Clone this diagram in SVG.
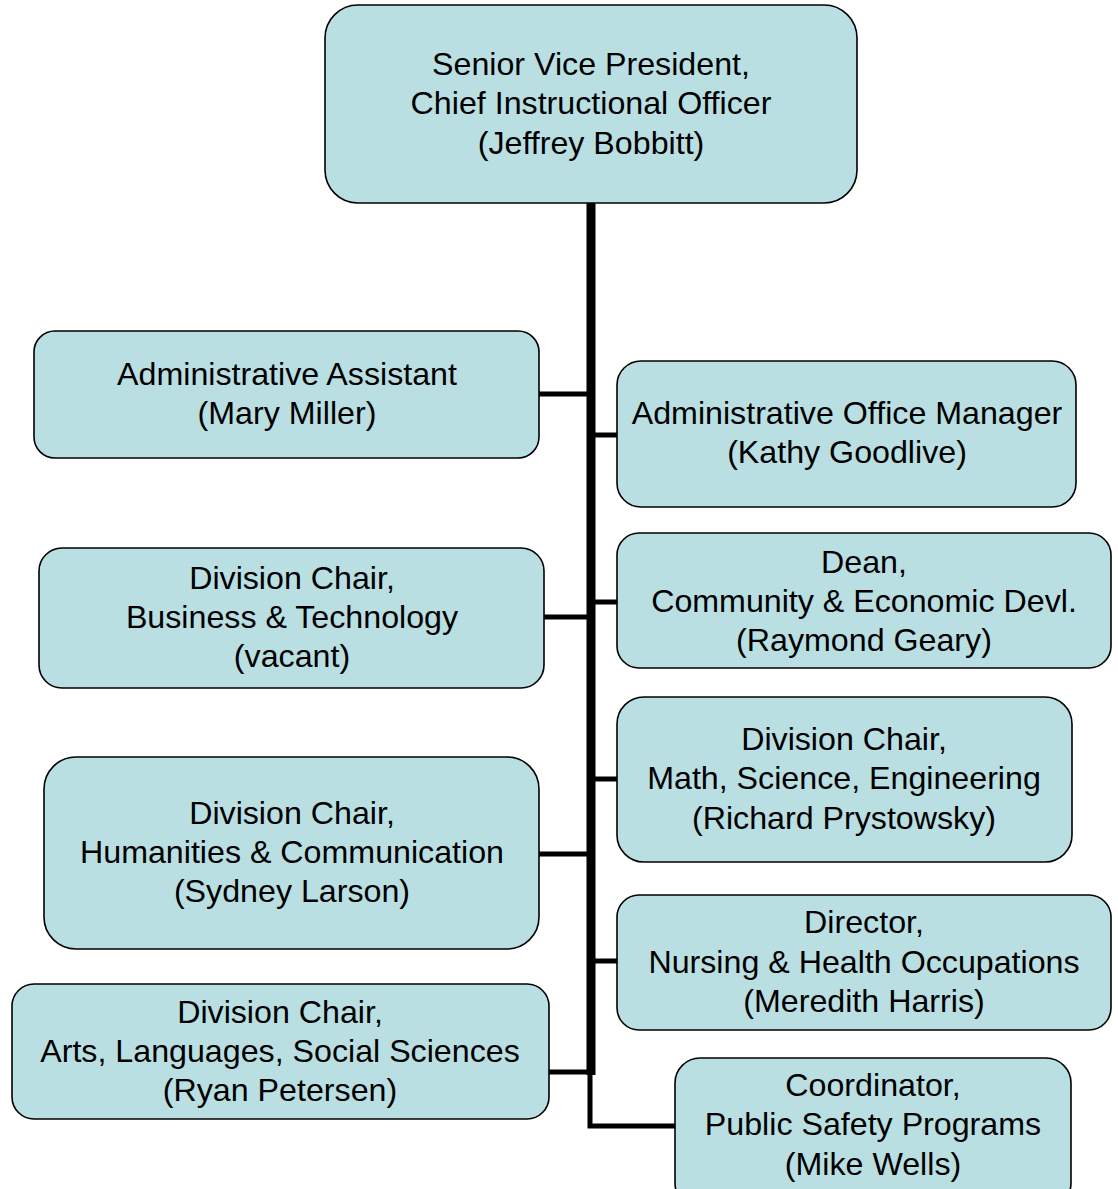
<svg xmlns="http://www.w3.org/2000/svg" width="1118" height="1189" viewBox="0 0 1118 1189">
  <style>
    .box { fill: #B9DFE3; stroke: #000000; stroke-width: 1.6; }
    .lbl { font-family: "Liberation Sans", Arial, sans-serif; font-size: 32.2px; fill: #000000; text-anchor: middle; }
    .trunk { stroke: #000000; stroke-width: 9; fill: none; }
    .branch { stroke: #000000; stroke-width: 5; fill: none; }
  </style>
  <rect width="1118" height="1189" fill="#FFFFFF"/>

  <!-- connectors -->
  <g id="connectors">
    <line class="trunk" x1="591" y1="203" x2="591" y2="1075"/>
    <line class="branch" x1="539" y1="394" x2="591" y2="394"/>
    <line class="branch" x1="591" y1="435" x2="617" y2="435"/>
    <line class="branch" x1="591" y1="602" x2="617" y2="602"/>
    <line class="branch" x1="544" y1="617" x2="591" y2="617"/>
    <line class="branch" x1="591" y1="779" x2="617" y2="779"/>
    <line class="branch" x1="539" y1="854" x2="591" y2="854"/>
    <line class="branch" x1="591" y1="961" x2="617" y2="961"/>
    <line class="branch" x1="549" y1="1072" x2="591" y2="1072"/>
    <polyline class="branch" points="590,1070 590,1126 675,1126"/>
  </g>

  <g id="node-svp">
    <rect class="box" x="325" y="5" width="532" height="198" rx="33" ry="33"/>
    <text class="lbl" x="591" y="75">Senior Vice President,</text>
    <text class="lbl" x="591" y="114">Chief Instructional Officer</text>
    <text class="lbl" x="591" y="154">(Jeffrey Bobbitt)</text>
  </g>

  <g id="node-admin-assistant">
    <rect class="box" x="34" y="331" width="505" height="127" rx="21" ry="21"/>
    <text class="lbl" x="287" y="385">Administrative Assistant</text>
    <text class="lbl" x="287" y="424">(Mary Miller)</text>
  </g>

  <g id="node-office-manager">
    <rect class="box" x="617" y="361" width="459" height="146" rx="24" ry="24"/>
    <text class="lbl" x="847" y="424">Administrative Office Manager</text>
    <text class="lbl" x="847" y="463">(Kathy Goodlive)</text>
  </g>

  <g id="node-business">
    <rect class="box" x="39" y="548" width="505" height="140" rx="23" ry="23"/>
    <text class="lbl" x="292" y="589">Division Chair,</text>
    <text class="lbl" x="292" y="628">Business &amp; Technology</text>
    <text class="lbl" x="292" y="667">(vacant)</text>
  </g>

  <g id="node-dean">
    <rect class="box" x="617" y="533" width="494" height="135" rx="22" ry="22"/>
    <text class="lbl" x="864" y="573">Dean,</text>
    <text class="lbl" x="864" y="612">Community &amp; Economic Devl.</text>
    <text class="lbl" x="864" y="651">(Raymond Geary)</text>
  </g>

  <g id="node-math">
    <rect class="box" x="617" y="697" width="455" height="165" rx="27" ry="27"/>
    <text class="lbl" x="844" y="750">Division Chair,</text>
    <text class="lbl" x="844" y="789">Math, Science, Engineering</text>
    <text class="lbl" x="844" y="829">(Richard Prystowsky)</text>
  </g>

  <g id="node-humanities">
    <rect class="box" x="44" y="757" width="495" height="192" rx="32" ry="32"/>
    <text class="lbl" x="292" y="824">Division Chair,</text>
    <text class="lbl" x="292" y="863">Humanities &amp; Communication</text>
    <text class="lbl" x="292" y="902">(Sydney Larson)</text>
  </g>

  <g id="node-nursing">
    <rect class="box" x="617" y="895" width="494" height="135" rx="22" ry="22"/>
    <text class="lbl" x="864" y="933">Director,</text>
    <text class="lbl" x="864" y="973">Nursing &amp; Health Occupations</text>
    <text class="lbl" x="864" y="1012">(Meredith Harris)</text>
  </g>

  <g id="node-arts">
    <rect class="box" x="12" y="984" width="537" height="135" rx="22" ry="22"/>
    <text class="lbl" x="280" y="1023">Division Chair,</text>
    <text class="lbl" x="280" y="1062">Arts, Languages, Social Sciences</text>
    <text class="lbl" x="280" y="1101">(Ryan Petersen)</text>
  </g>

  <g id="node-public-safety">
    <rect class="box" x="675" y="1058" width="396" height="150" rx="25" ry="25"/>
    <text class="lbl" x="873" y="1096">Coordinator,</text>
    <text class="lbl" x="873" y="1135">Public Safety Programs</text>
    <text class="lbl" x="873" y="1175">(Mike Wells)</text>
  </g>
</svg>
